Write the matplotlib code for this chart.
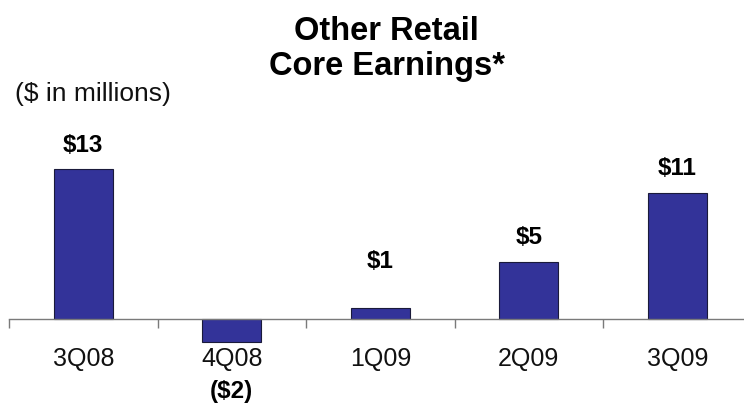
import numpy as np
import matplotlib
matplotlib.use("Agg")
import matplotlib.pyplot as plt

plt.rcParams['font.family'] = ['Liberation Sans', 'DejaVu Sans']

quarters = ["3Q08", "4Q08", "1Q09", "2Q09", "3Q09"]
earnings = [13, -2, 1, 5, 11]
value_labels = ["$13", "($2)", "$1", "$5", "$11"]

W, H = 744, 405
fig = plt.figure(figsize=(W / 100, H / 100), dpi=100)

# zero line sits 319 px from the top, 11.5 px per $1m
px_per_unit = 11.5
y_lo, y_hi = -7, 16
zero_px = 319
bottom_px = H - (zero_px + (-y_lo) * px_per_unit)
height_px = (y_hi - y_lo) * px_per_unit
left_px, width_px = 9, 742.5
ax = fig.add_axes([left_px / W, bottom_px / H, width_px / W, height_px / H])

x = np.arange(len(quarters))
ax.bar(x, earnings, width=0.4, color="#333399", edgecolor="#1a1a3a", linewidth=0.8, zorder=3)

ax.set_xlim(-0.5, len(quarters) - 0.5)
ax.set_ylim(y_lo, y_hi)
for side in ["top", "right", "left"]:
    ax.spines[side].set_visible(False)
ax.spines["bottom"].set_position(("data", 0))
ax.spines["bottom"].set_color("#7a7a7a")
ax.spines["bottom"].set_linewidth(1.0)
ax.spines["bottom"].set_zorder(4)
ax.set_yticks([])
ax.set_xticks(np.arange(len(quarters) + 1) - 0.5)
ax.set_xticklabels([])
ax.tick_params(axis="x", direction="out", length=6.5, width=1.0, color="#7a7a7a")
ax.patch.set_visible(False)

for xi, q in zip(x, quarters):
    ax.text(xi, -3.5, q, ha="center", va="center", fontsize=18, color="#111111")

for xi, v, lab in zip(x, earnings, value_labels):
    if v >= 0:
        # small bars get their label lifted clear of the bar
        ly = max(v, 2.9) + 2.1
    else:
        ly = v - 4.3
    ax.text(xi, ly, lab, ha="center", va="center", fontsize=17.5,
            fontweight="bold", color="#000000")

fig.text(386 / W, 1 - 32 / H, "Other Retail", ha="center", va="center",
         fontsize=23.5, fontweight="bold")
fig.text(387 / W, 1 - 66 / H, "Core Earnings*", ha="center", va="center",
         fontsize=23.5, fontweight="bold")
fig.text(15 / W, 1 - 94 / H, "($ in millions)", ha="left", va="center",
         fontsize=19, color="#111111")

fig.savefig("out.png", dpi=100)
